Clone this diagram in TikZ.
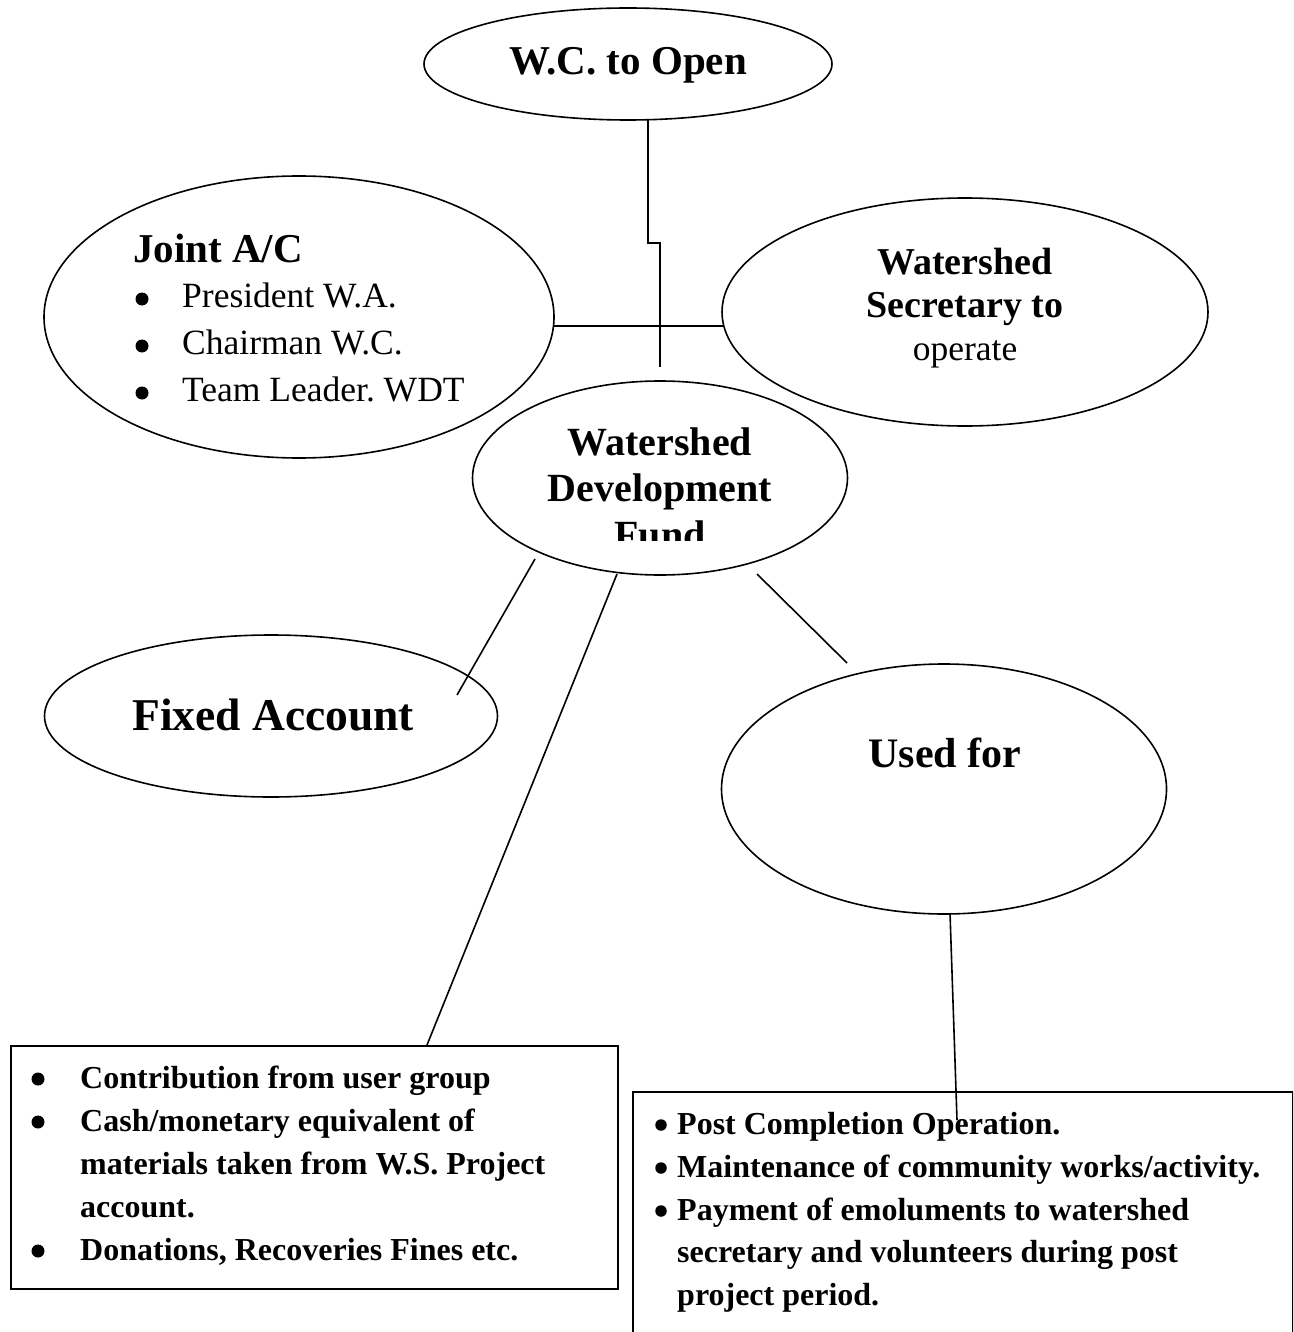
\documentclass[tikz,border=0pt]{standalone}
\usepackage{fontspec}
\setmainfont{Liberation Serif}
\usetikzlibrary{shapes.geometric}
\frenchspacing

\begin{document}
\begin{tikzpicture}
    [x=1pt,y=-1pt,
     Oval/.style={ellipse,draw=black,line width=1.6pt,inner sep=0pt},
     Box/.style={rectangle,draw=black,line width=2.4pt,inner sep=0pt,anchor=north west},
     Link/.style={draw=black,line width=1.6pt},
     Dot/.style={circle,fill=black,inner sep=0pt,minimum size=13pt},
     Txt/.style={inner sep=0pt,anchor=base},
     TxtL/.style={inner sep=0pt,anchor=base west},
     BigHead/.style={font=\fontsize{45.5}{54}\selectfont\bfseries},
     Head/.style={font=\fontsize{41}{48}\selectfont\bfseries},
     SubHead/.style={font=\fontsize{38}{46}\selectfont\bfseries},
     FundHead/.style={font=\fontsize{40}{48}\selectfont\bfseries},
     Item/.style={font=\fontsize{35.5}{42}\selectfont},
     ItemB/.style={font=\fontsize{32}{40}\selectfont\bfseries}]
    \clip (0,0) rectangle (1293,1332);

    % ovals
    \node[Oval,minimum width=408pt,minimum height=112pt] (wc) at (628,64){};
    \node[Oval,minimum width=510pt,minimum height=282pt] (joint) at (299,317){};
    \node[Oval,minimum width=486pt,minimum height=228pt] (secr) at (965,312){};
    \node[Oval,minimum width=375pt,minimum height=194pt] (fund) at (660,478){};
    \node[Oval,minimum width=453pt,minimum height=162pt] (fixed) at (271,716){};
    \node[Oval,minimum width=445pt,minimum height=250pt] (used) at (944,789){};

    % boxes
    \node[Box,minimum width=607pt,minimum height=243pt] (srcBox) at (10,1045){};
    \node[Box,minimum width=660pt,minimum height=260pt] (useBox) at (632,1091){};

    % oval texts
    \node[Txt,Head] (wcText) at (628,75){W.C. to Open};
    \node[TxtL,Head] (jointTitle) at (133,262){Joint A/C};
    \node[Dot] (jointDotA) at (142,299){};
    \node[Dot] (jointDotB) at (142,346){};
    \node[Dot] (jointDotC) at (142,393){};
    \node[TxtL,Item] (jointA) at (182,307){President W.A.};
    \node[TxtL,Item] (jointB) at (182,354){Chairman W.C.};
    \node[TxtL,Item] (jointC) at (182,401){Team Leader. WDT};
    \node[Txt,SubHead] (secrA) at (965,274){Watershed};
    \node[Txt,SubHead] (secrB) at (965,317){Secretary to};
    \node[Txt,Item] (secrC) at (965,360){operate};
    \node[Txt,FundHead] (fundA) at (660,455){Watershed};
    \node[Txt,FundHead] (fundB) at (660,501){Development};
    \begin{scope}
        \clip (450,505) rectangle (870,540);
        \node[Txt,FundHead] (fundC) at (660,548){Fund};
    \end{scope}
    \node[TxtL,BigHead] (fixedText) at (132,730){Fixed Account};
    \node[Txt,font=\fontsize{42}{50}\selectfont\bfseries] (usedText) at (945,767){Used for};

    % box texts
    \node[Dot] (srcDotA) at (38,1079){};
    \node[Dot] (srcDotB) at (38,1122){};
    \node[Dot] (srcDotC) at (38,1251){};
    \node[TxtL,ItemB] (srcA) at (80,1088){Contribution from user group};
    \node[TxtL,ItemB] (srcB) at (80,1131){Cash/monetary equivalent of};
    \node[TxtL,ItemB] (srcB2) at (80,1174){materials taken from W.S. Project};
    \node[TxtL,ItemB] (srcB3) at (80,1217){account.};
    \node[TxtL,ItemB] (srcC) at (80,1260){Donations, Recoveries Fines etc.};
    \node[Dot,minimum size=11.5pt] (useDotA) at (661,1125){};
    \node[Dot,minimum size=11.5pt] (useDotB) at (661,1168){};
    \node[Dot,minimum size=11.5pt] (useDotC) at (661,1211){};
    \node[TxtL,ItemB] (useA) at (677,1134){Post Completion Operation.};
    \node[TxtL,ItemB] (useB) at (677,1177){Maintenance of community works/activity.};
    \node[TxtL,ItemB] (useC) at (677,1220){Payment of emoluments to watershed};
    \node[TxtL,ItemB] (useC2) at (677,1262){secretary and volunteers during post};
    \node[TxtL,ItemB] (useC3) at (677,1305){project period.};

    % connector ends
    \coordinate (wcFoot) at (648,119);
    \coordinate (wcJog) at (660,243);
    \coordinate (wcEnd) at (660,367);
    \coordinate (jointEast) at (554,326);
    \coordinate (secrWest) at (723,326);
    \coordinate (fundSW) at (535,559);
    \coordinate (fixedTop) at (457,695);
    \coordinate (fundS) at (617,574);
    \coordinate (srcTop) at (427,1045);
    \coordinate (fundSE) at (757,574);
    \coordinate (usedTop) at (847,663);
    \coordinate (usedFoot) at (950,913);
    \coordinate (useEnd) at (957,1120);

    % connectors
    \draw[Link](wcFoot) |- (wcJog) -- (wcEnd);
    \draw[Link](jointEast) -- (secrWest);
    \draw[Link](fundSW) -- (fixedTop);
    \draw[Link](fundS) -- (srcTop);
    \draw[Link](fundSE) -- (usedTop);
    \draw[Link](usedFoot) -- (useEnd);
\end{tikzpicture}
\end{document}
